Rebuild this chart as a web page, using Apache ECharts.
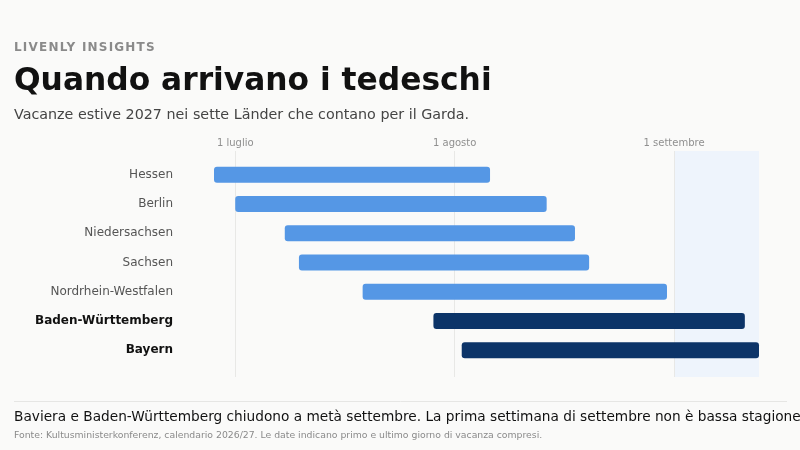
<!DOCTYPE html>
<html><head><meta charset="utf-8">
<script src="https://cdn.jsdelivr.net/npm/echarts@6/dist/echarts.min.js"></script>
<style>html,body{margin:0;padding:0;background:#FAFAF9}#c{width:800px;height:450px}</style>
</head><body><div id="c"></div>
<script>
const states = ['Hessen','Berlin','Niedersachsen','Sachsen','Nordrhein-Westfalen','Baden-Württemberg','Bayern'];
const startDates = ['2027-06-28','2027-07-01','2027-07-08','2027-07-10','2027-07-19','2027-07-29','2027-08-02'];
const endDates = ['2027-08-06','2027-08-14','2027-08-18','2027-08-20','2027-08-31','2027-09-11','2027-09-13'];
const highlighted = [false,false,false,false,false,true,true];
const monthTicks = ['2027-07-01','2027-08-01','2027-09-01'];
const monthLabels = ['1 luglio','1 agosto','1 settembre'];
const peakStart = '2027-09-01';
const peakEnd = '2027-09-13';
const axisMin = '2027-06-28';
const axisMax = '2027-09-13';

const FONT = 'DejaVu Sans';
const KICKER = 'LIVENLY INSIGHTS';

// letter-spaced kicker only (presentation only)
(function () {
  const proto = CanvasRenderingContext2D.prototype;
  const orig = proto.fillText;
  proto.fillText = function (t, x, y, w) {
    if ('letterSpacing' in this) {
      this.letterSpacing = (t === KICKER) ? '1.2px' : '0px';
    }
    const r = w === undefined ? orig.call(this, t, x, y) : orig.call(this, t, x, y, w);
    if ('letterSpacing' in this) this.letterSpacing = '0px';
    return r;
  };
})();

const chart = echarts.init(document.getElementById('c'), null, {renderer: 'canvas'});
const GL = 214, GR = 41;
chart.setOption({
  backgroundColor: '#FAFAF9',
  animation: false,
  textStyle: {fontFamily: FONT},
  grid: [
    {left: GL, right: GR, top: 160, height: 205, containLabel: false},
    {left: GL, right: GR, top: 151, height: 226, containLabel: false}
  ],
  xAxis: [
    {gridIndex: 0, type: 'time', min: axisMin, max: axisMax, show: false},
    {gridIndex: 1, type: 'time', min: axisMin, max: axisMax, show: false}
  ],
  yAxis: [
    {gridIndex: 0, type: 'category', data: states, inverse: true,
     axisLine: {show: false}, axisTick: {show: false}, splitLine: {show: false},
     axisLabel: {margin: 41, fontFamily: FONT,
       formatter: function (v) { const i = states.indexOf(v); return highlighted[i] ? '{b|' + v + '}' : '{n|' + v + '}'; },
       rich: {
         n: {fontSize: 12, color: '#555555', fontFamily: FONT},
         b: {fontSize: 12, color: '#111111', fontWeight: 'bold', fontFamily: FONT}
       }}},
    {gridIndex: 1, type: 'value', min: 0, max: 1, show: false}
  ],
  series: [
    {type: 'line', xAxisIndex: 1, yAxisIndex: 1, data: [[axisMin, 0]], showSymbol: false, symbolSize: 0,
     lineStyle: {width: 0}, silent: true, z: 0,
     markArea: {silent: true, itemStyle: {color: '#EEF4FC'}, data: [[{xAxis: peakStart}, {xAxis: peakEnd}]]},
     markLine: {silent: true, symbol: ['none', 'none'],
       label: {show: true, position: 'end', formatter: '{b}', color: '#8f8f8f', fontSize: 10, fontFamily: FONT, distance: 3},
       lineStyle: {color: '#E8E8E6', width: 1, type: 'solid'},
       data: monthTicks.map((d, i) => ({xAxis: d, name: monthLabels[i]}))}
    },
    {type: 'custom', xAxisIndex: 0, yAxisIndex: 0, z: 5,
     encode: {x: [1, 2], y: 0},
     data: states.map((s, i) => [i, startDates[i], endDates[i]]),
     renderItem: function (params, api) {
       const idx = api.value(0);
       const p0 = api.coord([api.value(1), idx]);
       const p1 = api.coord([api.value(2), idx]);
       const h = 16;
       return {type: 'rect',
         shape: {x: p0[0], y: p0[1] - h / 2, width: p1[0] - p0[0], height: h, r: 3},
         style: {fill: highlighted[idx] ? '#0C3468' : '#5597E5'}};
     }}
  ],
  graphic: [
    {type: 'text', left: 14, top: 41.5, style: {text: KICKER, font: 'bold 12px "DejaVu Sans"', fill: '#8a8a8a'}},
    {type: 'text', left: 14, top: 66, style: {text: 'Quando arrivano i tedeschi', font: 'bold 31.3px "DejaVu Sans"', fill: '#111111'}},
    {type: 'text', left: 14, top: 108, style: {text: 'Vacanze estive 2027 nei sette Länder che contano per il Garda.', font: '14.3px "DejaVu Sans"', fill: '#444444'}},
    {type: 'line', shape: {x1: 14, y1: 401.5, x2: 787, y2: 401.5}, style: {stroke: '#E6E6E4', lineWidth: 1}},
    {type: 'text', left: 14, top: 410, style: {text: 'Baviera e Baden-Württemberg chiudono a metà settembre. La prima settimana di settembre non è bassa stagione', font: '13.7px "DejaVu Sans"', fill: '#111111'}},
    {type: 'text', left: 14, top: 431.5, style: {text: 'Fonte: Kultusministerkonferenz, calendario 2026/27. Le date indicano primo e ultimo giorno di vacanza compresi.', font: '9.3px "DejaVu Sans"', fill: '#8a8a8a'}}
  ]
});
</script></body></html>
